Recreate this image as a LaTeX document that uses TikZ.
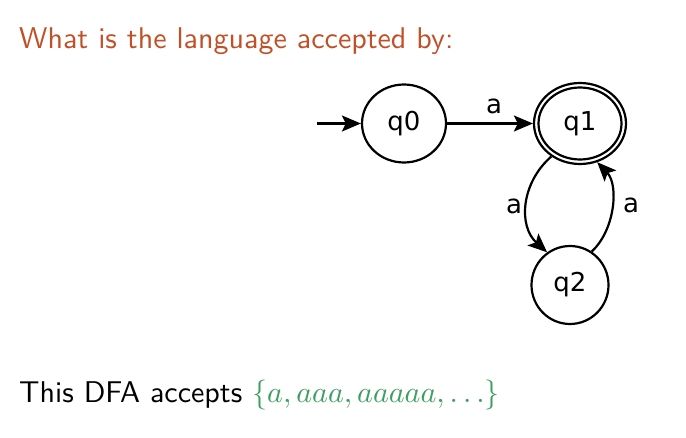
\documentclass[tikz,border=0pt]{standalone}
\usepackage{fontspec}
\setsansfont{lmsans10-regular}[Extension=.otf]
\newfontfamily\labelfont{DejaVu Sans}
% scalable math letters and symbols at any size
\DeclareFontShape{OML}{cmm}{m}{it}{<->cmmi10}{}
\DeclareFontShape{OMS}{cmsy}{m}{n}{<->cmsy10}{}
\usetikzlibrary{shapes.geometric,arrows.meta}
\definecolor{titlecol}{RGB}{193,80,40}
\definecolor{setcol}{RGB}{60,158,95}

\begin{document}
\begin{tikzpicture}[x=1pt,y=-1pt,
  state/.style={ellipse,draw,line width=2.2pt,inner sep=0pt,
    font=\labelfont\fontsize{26}{31}\selectfont},
  trans/.style={line width=2.2pt,-{Stealth[length=19pt,width=16pt,inset=4pt]}},
  lbl/.style={font=\labelfont\fontsize{26}{31}\selectfont,inner sep=0pt},
  heading/.style={font=\sffamily\fontsize{30}{36}\selectfont,inner sep=0pt,anchor=base west}]
\useasboundingbox (0,0) rectangle (686,438);

% question and answer text
\node[heading,text=titlecol] (title) at (19,49) {What is the language accepted by:};
\node[heading] (answer) at (19,403) {This DFA accepts \textcolor{setcol}{$\{a, aaa, aaaaa, \dots\}$}};

% states
\node[state,minimum width=84pt,minimum height=78pt] (q0) at (404,123.5) {q0};
\node[state,minimum width=92pt,minimum height=81pt] (q1) at (580,123.5) {q1};
\draw[line width=2.2pt] (q1.center) ellipse [x radius=41.5pt, y radius=36pt];
\node[state,minimum width=77pt,minimum height=78pt] (q2) at (570,285) {q2};

% start marker
\coordinate (init) at (317,123.5);
\draw[trans] (init) -- (q0.west);

% transitions
\draw[trans] (q0.east) -- (q1.west);
\node[lbl] (l01) at (494,106.5) {a};

\draw[trans] (q1.229) .. controls (521,183) and (518,226) .. (q2.125);
\node[lbl] (l12) at (514,206) {a};

\draw[trans] (q2.57) .. controls (615,230) and (619,185) .. (q1.294);
\node[lbl] (l21) at (631,205.5) {a};
\end{tikzpicture}
\end{document}
